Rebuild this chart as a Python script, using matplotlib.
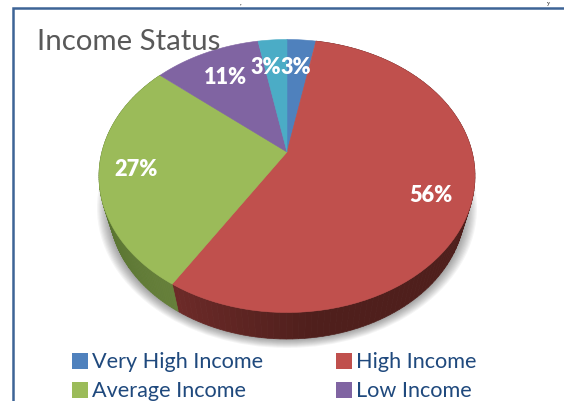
import numpy as np
import matplotlib
matplotlib.use('Agg')
import matplotlib.pyplot as plt
from matplotlib.patches import Polygon, Ellipse, Rectangle

title = 'Income Status'
shares = [3, 56, 27, 11, 3]
share_labels = ['3%', '56%', '27%', '11%', '3%']
face_colors = ['#4f81bd', '#c0504d', '#9bbb59', '#8064a2', '#4bacc6']
legend_names = ['Very High Income', 'High Income', 'Average Income', 'Low Income']

# picture is drawn in pixel coordinates
W, H = 564, 401
cx, cy = 287, 176     # centre of the top ellipse
rx, ry = 188, 136.5
low_cy, low_rx, low_ry = 207, 178, 132   # bottom rim is a smaller ellipse
apex_y = 152          # slices meet above the centre, perspective
squash = 0.73


def edge(deg):
    # where the ray for this pie angle hits the top ellipse
    th = np.radians(deg)
    dx, dy = np.sin(th), -np.cos(th) * squash
    oy = apex_y - cy
    a = (dx / rx) ** 2 + (dy / ry) ** 2
    b = 2 * oy * dy / ry ** 2
    c = (oy / ry) ** 2 - 1
    t = (-b + np.sqrt(b * b - 4 * a * c)) / (2 * a)
    return cx + t * dx, cy + oy + t * dy


def lower(x, y):
    return cx + (x - cx) / rx * low_rx, low_cy + (y - cy) / ry * low_ry


def mix(c1, c2, f):
    a = np.array(matplotlib.colors.to_rgb(c1))
    b = np.array(matplotlib.colors.to_rgb(c2))
    return tuple(a + (b - a) * f)


fig = plt.figure(figsize=(W / 100, H / 100), dpi=100)
ax = fig.add_axes([0, 0, 1, 1])
ax.set_xlim(0, W)
ax.set_ylim(H, 0)
ax.axis('off')

# frame of the chart, only left and top are in view
ax.plot([12.5, 12.5, W], [H, 7.5, 7.5], color='#3d6496', lw=1.8, solid_capstyle='butt',
        solid_joinstyle='miter', zorder=1)

# bits of the page text above the chart
ax.text(241, 0.5, ',', color='black', fontsize=5, family='Liberation Serif', ha='center', va='top')
ax.text(548, 0.5, 'y', color='black', fontsize=4.5, family='Liberation Serif', ha='center', va='top')

# soft shadow under the pie
for i in range(10):
    ax.add_patch(Ellipse((cx, low_cy + 1), 2 * low_rx + 24 - i * 2.4, 2 * low_ry + 16 - i * 1.8,
                         fc='#000000', ec='none', alpha=0.04, zorder=2))

edges = np.cumsum([0] + shares) * 3.6

# side wall, only red and green show
for k, col_a, col_b in [(1, '#6e2b29', '#4f1f1c'), (2, '#66803a', '#55702f')]:
    steps = np.linspace(edges[k], edges[k + 1], 120)
    for j in range(len(steps) - 1):
        x0, y0 = edge(steps[j])
        x1, y1 = edge(steps[j + 1])
        # lighter next to the red/green corner
        if k == 1:
            f = np.clip((edges[k + 1] - steps[j]) / 40, 0, 1)
        else:
            f = np.clip((steps[j] - edges[k]) / 50, 0, 1)
        col = mix(col_a, col_b, f)
        ax.add_patch(Polygon([(x0, y0), (x1, y1), lower(x1, y1), lower(x0, y0)],
                             fc=col, ec=col, lw=0.5, zorder=3))

# top face
for k in range(len(shares)):
    pts = [(cx, apex_y)] + [edge(a) for a in np.linspace(edges[k], edges[k + 1], 80)]
    ax.add_patch(Polygon(pts, fc=face_colors[k], ec=face_colors[k], lw=0.4, zorder=4))

# data labels
label_xy = [(296, 68), (431, 195), (136, 169), (225, 78), (266, 68)]
for s, (x, y) in zip(share_labels, label_xy):
    ax.text(x, y, s, color='white', fontsize=15.6, fontweight='heavy', family='Lato',
            ha='center', va='center', zorder=5)

ax.text(37, 41.5, title, color='#595959', fontsize=21.2, family='Lato', ha='left', va='center', zorder=6)

# legend
legend_xy = [(72, 362), (336, 362), (72, 391), (336, 391)]
for name, col, (x, y) in zip(legend_names, face_colors, legend_xy):
    ax.add_patch(Rectangle((x, y - 9), 16, 16, fc=col, ec='none', zorder=5))
    ax.text(x + 20, y, name, color='#1f497d', fontsize=15.6, family='Lato', ha='left', va='center', zorder=5)

fig.savefig('out.png', dpi=100)
